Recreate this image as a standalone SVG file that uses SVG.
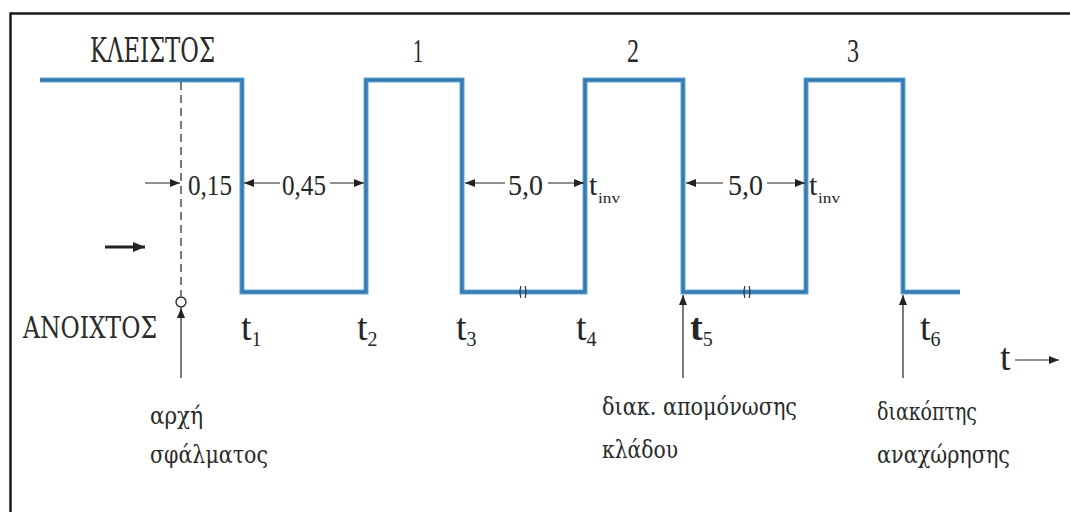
<svg xmlns="http://www.w3.org/2000/svg" width="1070" height="512" viewBox="0 0 1070 512">
  <style>
    .t { font-family: "Liberation Serif", "Times New Roman", serif; fill: #262626; }
    .g { font-family: "DejaVu Serif", "Liberation Serif", serif; fill: #2a2a2a; }
    .wave-under { fill: none; stroke: #5aa9e2; stroke-width: 5; stroke-linejoin: miter; }
    .wave { fill: none; stroke: #3b79ab; stroke-width: 3; stroke-linejoin: miter; }
    .dim { stroke: #222; stroke-width: 1.2; fill: none; }
    .frame { stroke: #1a1a1a; stroke-width: 2.5; fill: none; }
  </style>
  <defs>
    <marker id="ah" viewBox="0 0 10 8" refX="10" refY="4" markerWidth="10" markerHeight="8" markerUnits="userSpaceOnUse" orient="auto">
      <path d="M0,0 L10,4 L0,8 Z" fill="#222"/>
    </marker>
    <marker id="ahb" viewBox="0 0 12 10" refX="12" refY="5" markerWidth="12" markerHeight="10" markerUnits="userSpaceOnUse" orient="auto">
      <path d="M0,0 L12,5 L0,10 Z" fill="#222"/>
    </marker>
  </defs>
  <rect width="1070" height="512" fill="#ffffff"/>
  <g id="frame">
    <line class="frame" x1="10" y1="13.5" x2="1070" y2="13.5"/>
    <line class="frame" x1="10.5" y1="12.5" x2="10.5" y2="512"/>
  </g>

  <g id="waveform">
    <path class="wave-under" d="M40,80 H242 V292 H366 V80 H462 V292 H585 V80 H683 V292 H806 V80 H903 V292 H960"/>
    <path class="wave" d="M40,80 H242 V292 H366 V80 H462 V292 H585 V80 H683 V292 H806 V80 H903 V292 H960"/>
    <path d="M521,286 Q519,292 521,298 M525,286 Q527,292 525,298" stroke="#334" stroke-width="1.2" fill="none"/>
    <path d="M745,286 Q743,292 745,298 M749,286 Q751,292 749,298" stroke="#334" stroke-width="1.2" fill="none"/>
  </g>

  <g id="labels-top">
    <text class="g" x="90" y="62" font-size="34" textLength="125" lengthAdjust="spacingAndGlyphs">ΚΛΕΙΣΤΟΣ</text>
    <text class="t" x="418" y="62" font-size="34" text-anchor="middle" textLength="10" lengthAdjust="spacingAndGlyphs">1</text>
    <text class="t" x="633" y="62" font-size="34" text-anchor="middle" textLength="12" lengthAdjust="spacingAndGlyphs">2</text>
    <text class="t" x="853" y="62" font-size="34" text-anchor="middle" textLength="12" lengthAdjust="spacingAndGlyphs">3</text>
  </g>

  <g id="fault-marker">
    <line x1="181" y1="82" x2="181" y2="296" stroke="#222" stroke-width="1.2" stroke-dasharray="8,5"/>
    <circle cx="181" cy="302" r="5" fill="#fff" stroke="#222" stroke-width="1.3"/>
  </g>

  <g id="connectors">
    <line class="dim" x1="145" y1="183" x2="180" y2="183" marker-end="url(#ah)"/>
    <line class="dim" x1="280" y1="183" x2="244" y2="183" marker-end="url(#ah)"/>
    <line class="dim" x1="330" y1="183" x2="364" y2="183" marker-end="url(#ah)"/>
    <line class="dim" x1="505" y1="183" x2="465" y2="183" marker-end="url(#ah)"/>
    <line class="dim" x1="548" y1="183" x2="584" y2="183" marker-end="url(#ah)"/>
    <line class="dim" x1="723" y1="183" x2="686" y2="183" marker-end="url(#ah)"/>
    <line class="dim" x1="767" y1="183" x2="805" y2="183" marker-end="url(#ah)"/>
    <line x1="105" y1="247" x2="145" y2="247" stroke="#222" stroke-width="3" marker-end="url(#ahb)"/>
    <line class="dim" x1="181" y1="378" x2="181" y2="308" marker-end="url(#ah)"/>
    <line class="dim" x1="683" y1="378" x2="683" y2="295" marker-end="url(#ah)"/>
    <line class="dim" x1="903" y1="378" x2="903" y2="295" marker-end="url(#ah)"/>
    <line class="dim" x1="1015" y1="360" x2="1059" y2="360" stroke-width="1.5" marker-end="url(#ah)"/>
  </g>

  <g id="dimension-labels">
    <text class="t" x="188" y="195" font-size="30" textLength="44" lengthAdjust="spacingAndGlyphs">0,15</text>
    <text class="t" x="282" y="195" font-size="30" textLength="44" lengthAdjust="spacingAndGlyphs">0,45</text>
    <text class="t" x="508" y="195" font-size="30" textLength="35" lengthAdjust="spacingAndGlyphs">5,0</text>
    <text class="t" x="728" y="195" font-size="30" textLength="35" lengthAdjust="spacingAndGlyphs">5,0</text>
    <text class="t" x="589" y="195" font-size="30">t</text>
    <text class="t" x="598" y="203" font-size="14" textLength="22" lengthAdjust="spacingAndGlyphs">inv</text>
    <text class="t" x="809" y="195" font-size="30">t</text>
    <text class="t" x="818" y="203" font-size="14" textLength="22" lengthAdjust="spacingAndGlyphs">inv</text>
  </g>

  <g id="state-open">
    <text class="g" x="23" y="338" font-size="30" textLength="134" lengthAdjust="spacingAndGlyphs">ΑΝΟΙΧΤΟΣ</text>
  </g>

  <g id="time-labels">
    <text class="t" x="241" y="340" font-size="38">t<tspan font-size="20" dy="6">1</tspan></text>
    <text class="t" x="357" y="340" font-size="38">t<tspan font-size="20" dy="6">2</tspan></text>
    <text class="t" x="456" y="340" font-size="38">t<tspan font-size="20" dy="6">3</tspan></text>
    <text class="t" x="576" y="340" font-size="38">t<tspan font-size="20" dy="6">4</tspan></text>
    <text class="t" x="690" y="340" font-size="38" font-weight="bold">t<tspan font-size="20" dy="6" font-weight="normal">5</tspan></text>
    <text class="t" x="920" y="340" font-size="38">t<tspan font-size="20" dy="6">6</tspan></text>
    <text class="t" x="1000" y="370" font-size="38">t</text>
  </g>

  <g id="note-fault">
    <text class="g" x="150" y="424" font-size="24" textLength="53" lengthAdjust="spacingAndGlyphs">αρχή</text>
    <text class="g" x="150" y="463" font-size="24" textLength="118" lengthAdjust="spacingAndGlyphs">σφάλματος</text>
  </g>
  <g id="note-isolation">
    <text class="g" x="602" y="415" font-size="24" textLength="195" lengthAdjust="spacingAndGlyphs">διακ. απομόνωσης</text>
    <text class="g" x="602" y="458" font-size="24" textLength="76" lengthAdjust="spacingAndGlyphs">κλάδου</text>
  </g>
  <g id="note-breaker">
    <text class="g" x="877" y="420" font-size="24" textLength="100" lengthAdjust="spacingAndGlyphs">διακόπτης</text>
    <text class="g" x="877" y="463" font-size="24" textLength="133" lengthAdjust="spacingAndGlyphs">αναχώρησης</text>
  </g>
</svg>
